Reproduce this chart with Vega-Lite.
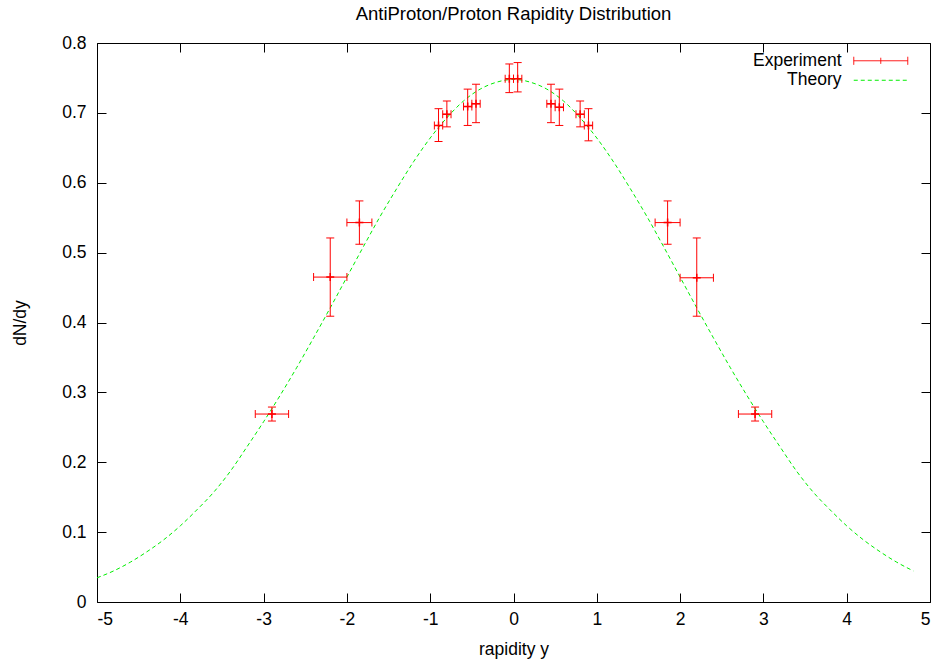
{
  "$schema": "https://vega.github.io/schema/vega-lite/v6.json",
  "width": 833,
  "height": 559,
  "autosize": {"type": "none"},
  "padding": {"left": 97, "top": 43, "right": 10, "bottom": 61},
  "background": "white",
  "title": {"text": "AntiProton/Proton Rapidity Distribution", "font": "Liberation Sans", "fontSize": 18.5, "fontWeight": "normal", "color": "black", "anchor": "middle", "offset": 11},
  "config": {
    "view": {"stroke": "black", "strokeWidth": 1},
    "axis": {"grid": false, "domain": false, "labelFont": "Liberation Sans", "labelFontSize": 17.5, "labelColor": "black", "titleFont": "Liberation Sans", "titleFontSize": 17.5, "titleFontWeight": "normal", "titleColor": "black", "tickColor": "black", "tickSize": -9, "tickWidth": 1}
  },
  "datasets": {
    "exp": [
      {"series": "Experiment", "x": -2.90, "y": 0.269, "xlo": -3.10, "xhi": -2.70, "ylo": 0.259, "yhi": 0.279},
      {"series": "Experiment", "x": -2.20, "y": 0.465, "xlo": -2.40, "xhi": -2.00, "ylo": 0.409, "yhi": 0.521},
      {"series": "Experiment", "x": -1.85, "y": 0.543, "xlo": -2.00, "xhi": -1.70, "ylo": 0.512, "yhi": 0.574},
      {"series": "Experiment", "x": -0.90, "y": 0.682, "xlo": -0.95, "xhi": -0.85, "ylo": 0.659, "yhi": 0.706},
      {"series": "Experiment", "x": -0.80, "y": 0.698, "xlo": -0.85, "xhi": -0.75, "ylo": 0.680, "yhi": 0.717},
      {"series": "Experiment", "x": -0.55, "y": 0.709, "xlo": -0.60, "xhi": -0.50, "ylo": 0.682, "yhi": 0.734},
      {"series": "Experiment", "x": -0.45, "y": 0.713, "xlo": -0.50, "xhi": -0.40, "ylo": 0.686, "yhi": 0.741},
      {"series": "Experiment", "x": -0.05, "y": 0.749, "xlo": -0.10, "xhi": 0.00, "ylo": 0.729, "yhi": 0.770},
      {"series": "Experiment", "x": 0.05, "y": 0.749, "xlo": 0.00, "xhi": 0.10, "ylo": 0.730, "yhi": 0.772},
      {"series": "Experiment", "x": 0.45, "y": 0.713, "xlo": 0.40, "xhi": 0.50, "ylo": 0.686, "yhi": 0.741},
      {"series": "Experiment", "x": 0.55, "y": 0.708, "xlo": 0.50, "xhi": 0.60, "ylo": 0.682, "yhi": 0.734},
      {"series": "Experiment", "x": 0.80, "y": 0.698, "xlo": 0.75, "xhi": 0.85, "ylo": 0.680, "yhi": 0.717},
      {"series": "Experiment", "x": 0.90, "y": 0.682, "xlo": 0.85, "xhi": 0.95, "ylo": 0.660, "yhi": 0.706},
      {"series": "Experiment", "x": 1.85, "y": 0.543, "xlo": 1.70, "xhi": 2.00, "ylo": 0.512, "yhi": 0.574},
      {"series": "Experiment", "x": 2.20, "y": 0.464, "xlo": 2.00, "xhi": 2.40, "ylo": 0.409, "yhi": 0.521},
      {"series": "Experiment", "x": 2.90, "y": 0.269, "xlo": 2.70, "xhi": 3.10, "ylo": 0.259, "yhi": 0.279}
    ],
    "theory": [
      {"series": "Theory", "x": -5.0, "y": 0.0346},
      {"series": "Theory", "x": -4.8, "y": 0.0445},
      {"series": "Theory", "x": -4.6, "y": 0.057},
      {"series": "Theory", "x": -4.4, "y": 0.072},
      {"series": "Theory", "x": -4.2, "y": 0.089},
      {"series": "Theory", "x": -4.0, "y": 0.109},
      {"series": "Theory", "x": -3.8, "y": 0.132},
      {"series": "Theory", "x": -3.6, "y": 0.157},
      {"series": "Theory", "x": -3.4, "y": 0.187},
      {"series": "Theory", "x": -3.2, "y": 0.222},
      {"series": "Theory", "x": -3.0, "y": 0.258},
      {"series": "Theory", "x": -2.8, "y": 0.296},
      {"series": "Theory", "x": -2.6, "y": 0.336},
      {"series": "Theory", "x": -2.4, "y": 0.378},
      {"series": "Theory", "x": -2.2, "y": 0.421},
      {"series": "Theory", "x": -2.0, "y": 0.465},
      {"series": "Theory", "x": -1.8, "y": 0.509},
      {"series": "Theory", "x": -1.6, "y": 0.552},
      {"series": "Theory", "x": -1.4, "y": 0.592},
      {"series": "Theory", "x": -1.2, "y": 0.630},
      {"series": "Theory", "x": -1.0, "y": 0.664},
      {"series": "Theory", "x": -0.8, "y": 0.693},
      {"series": "Theory", "x": -0.6, "y": 0.717},
      {"series": "Theory", "x": -0.4, "y": 0.734},
      {"series": "Theory", "x": -0.2, "y": 0.744},
      {"series": "Theory", "x": 0.0, "y": 0.748},
      {"series": "Theory", "x": 0.2, "y": 0.744},
      {"series": "Theory", "x": 0.4, "y": 0.734},
      {"series": "Theory", "x": 0.6, "y": 0.717},
      {"series": "Theory", "x": 0.8, "y": 0.693},
      {"series": "Theory", "x": 1.0, "y": 0.664},
      {"series": "Theory", "x": 1.2, "y": 0.630},
      {"series": "Theory", "x": 1.4, "y": 0.592},
      {"series": "Theory", "x": 1.6, "y": 0.552},
      {"series": "Theory", "x": 1.8, "y": 0.509},
      {"series": "Theory", "x": 2.0, "y": 0.465},
      {"series": "Theory", "x": 2.2, "y": 0.421},
      {"series": "Theory", "x": 2.4, "y": 0.378},
      {"series": "Theory", "x": 2.6, "y": 0.336},
      {"series": "Theory", "x": 2.8, "y": 0.296},
      {"series": "Theory", "x": 3.0, "y": 0.258},
      {"series": "Theory", "x": 3.2, "y": 0.222},
      {"series": "Theory", "x": 3.4, "y": 0.187},
      {"series": "Theory", "x": 3.6, "y": 0.157},
      {"series": "Theory", "x": 3.8, "y": 0.132},
      {"series": "Theory", "x": 4.0, "y": 0.109},
      {"series": "Theory", "x": 4.2, "y": 0.089},
      {"series": "Theory", "x": 4.4, "y": 0.072},
      {"series": "Theory", "x": 4.6, "y": 0.057},
      {"series": "Theory", "x": 4.8, "y": 0.0445}
    ]
  },
  "layer": [
    {
      "data": {"name": "theory"},
      "mark": {"type": "line", "strokeDash": [4, 3], "strokeWidth": 1, "interpolate": "monotone"},
      "encoding": {
        "x": {"field": "x", "type": "quantitative", "scale": {"domain": [-5, 5], "nice": false, "zero": false},
              "axis": {"orient": "bottom", "values": [-5, -4, -3, -2, -1, 0, 1, 2, 3, 4, 5], "format": "d", "labelExpr": "replace(datum.label, '\u2212', '-')", "title": "rapidity y", "labelPadding": 17, "titlePadding": 13}},
        "y": {"field": "y", "type": "quantitative", "scale": {"domain": [0, 0.8], "nice": false, "zero": false},
              "axis": {"orient": "left", "values": [0, 0.1, 0.2, 0.3, 0.4, 0.5, 0.6, 0.7, 0.8], "labelExpr": "toString(datum.value)", "title": "dN/dy", "labelPadding": 20, "titlePadding": 32}},
        "color": {"field": "series", "type": "nominal", "scale": {"domain": ["Experiment", "Theory"], "range": ["#ff0000", "#00ee00"]},
                  "legend": {"title": null, "orient": "none", "legendX": 775, "legendY": 9, "symbolSize": 36, "labelAlign": "right", "labelOffset": -48, "labelFont": "Liberation Sans", "labelFontSize": 17.5, "labelColor": "black", "padding": 0, "rowPadding": 0.5, "symbolStrokeWidth": 1,
                    "encode": {"symbols": {"update": {
                      "shape": {"signal": "datum.value === 'Experiment' ? 'M-9,0H9M-9,-1.33V1.33M9,-1.33V1.33M0,-1V1' : 'M-9,0H9'"},
                      "strokeDash": {"signal": "datum.value === 'Theory' ? [4,3] : [1,0]"},
                      "stroke": {"signal": "datum.value === 'Theory' ? '#00ee00' : '#ff0000'"},
                      "fill": {"value": "transparent"},
                      "strokeWidth": {"value": 1},
                      "opacity": {"value": 1}}}}}}
      }
    },
    {
      "data": {"name": "exp"},
      "mark": {"type": "rule", "strokeWidth": 1},
      "encoding": {
        "x": {"field": "xlo", "type": "quantitative", "axis": null},
        "x2": {"field": "xhi"},
        "y": {"field": "y", "type": "quantitative", "axis": null},
        "color": {"field": "series", "type": "nominal",
                  "legend": {"title": null, "orient": "none", "legendX": 775, "legendY": 9, "symbolSize": 36, "labelAlign": "right", "labelOffset": -48, "labelFont": "Liberation Sans", "labelFontSize": 17.5, "labelColor": "black", "padding": 0, "rowPadding": 0.5, "symbolStrokeWidth": 1,
                    "encode": {"symbols": {"update": {
                      "shape": {"signal": "datum.value === 'Experiment' ? 'M-9,0H9M-9,-1.33V1.33M9,-1.33V1.33M0,-1V1' : 'M-9,0H9'"},
                      "strokeDash": {"signal": "datum.value === 'Theory' ? [4,3] : [1,0]"},
                      "stroke": {"signal": "datum.value === 'Theory' ? '#00ee00' : '#ff0000'"},
                      "fill": {"value": "transparent"},
                      "strokeWidth": {"value": 1},
                      "opacity": {"value": 1}}}}}}
      }
    },
    {
      "data": {"name": "exp"},
      "mark": {"type": "rule", "strokeWidth": 1, "color": "#ff0000"},
      "encoding": {
        "x": {"field": "x", "type": "quantitative", "axis": null},
        "y": {"field": "ylo", "type": "quantitative", "axis": null},
        "y2": {"field": "yhi"}
      }
    },
    {
      "data": {"name": "exp"},
      "mark": {"type": "tick", "orient": "vertical", "size": 8, "thickness": 1, "color": "#ff0000", "opacity": 1},
      "encoding": {
        "x": {"field": "xlo", "type": "quantitative", "axis": null},
        "y": {"field": "y", "type": "quantitative", "axis": null}
      }
    },
    {
      "data": {"name": "exp"},
      "mark": {"type": "tick", "orient": "vertical", "size": 8, "thickness": 1, "color": "#ff0000", "opacity": 1},
      "encoding": {
        "x": {"field": "xhi", "type": "quantitative", "axis": null},
        "y": {"field": "y", "type": "quantitative", "axis": null}
      }
    },
    {
      "data": {"name": "exp"},
      "mark": {"type": "tick", "orient": "horizontal", "size": 8, "thickness": 1, "color": "#ff0000", "opacity": 1},
      "encoding": {
        "x": {"field": "x", "type": "quantitative", "axis": null},
        "y": {"field": "ylo", "type": "quantitative", "axis": null}
      }
    },
    {
      "data": {"name": "exp"},
      "mark": {"type": "tick", "orient": "horizontal", "size": 8, "thickness": 1, "color": "#ff0000", "opacity": 1},
      "encoding": {
        "x": {"field": "x", "type": "quantitative", "axis": null},
        "y": {"field": "yhi", "type": "quantitative", "axis": null}
      }
    },
    {
      "data": {"name": "exp"},
      "mark": {"type": "point", "shape": "M-1,0H1M0,-1V1", "size": 64, "filled": false, "stroke": "#ff0000", "strokeWidth": 1.5, "opacity": 1},
      "encoding": {
        "x": {"field": "x", "type": "quantitative",
              "axis": {"orient": "top", "values": [-5, -4, -3, -2, -1, 0, 1, 2, 3, 4, 5], "labels": false, "title": null}},
        "y": {"field": "y", "type": "quantitative",
              "axis": {"orient": "right", "values": [0, 0.1, 0.2, 0.3, 0.4, 0.5, 0.6, 0.7, 0.8], "labels": false, "title": null}}
      }
    }
  ],
  "resolve": {"axis": {"x": "independent", "y": "independent"}}
}
